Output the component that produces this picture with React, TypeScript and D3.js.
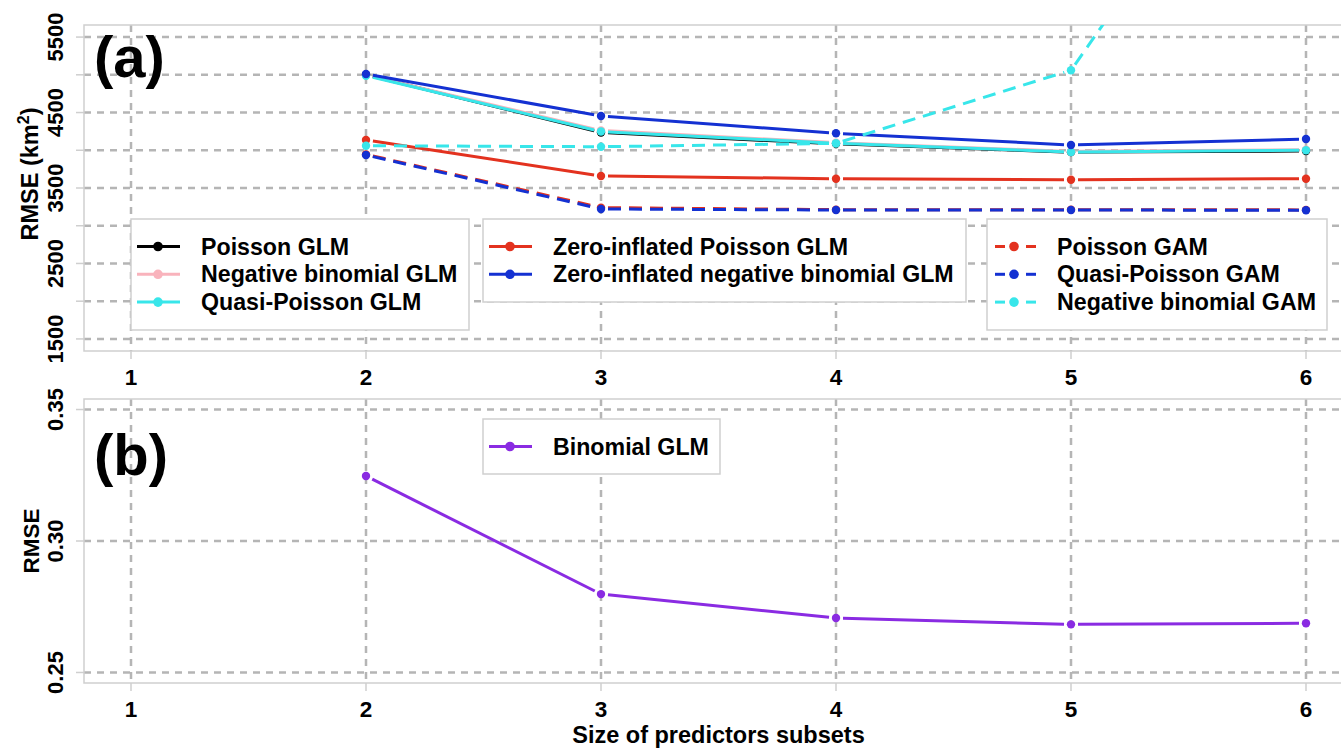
import { useEffect, useRef } from 'react'
import * as d3 from 'd3'

const subsetSizes = [2, 3, 4, 5, 6]
const xTicks = [1, 2, 3, 4, 5, 6]
const topGrid = [1500, 2000, 2500, 3000, 3500, 4000, 4500, 5000, 5500]
const topLabels = [1500, 2500, 3500, 4500, 5500]
const bottomGrid = [0.25, 0.3, 0.35]

const poissonGlm = [5000, 4235, 4085, 3975, 3990]
const negBinGlm = [4995, 4262, 4100, 3985, 4008]
const quasiPoissonGlm = [4988, 4248, 4092, 3978, 4000]
const zipGlm = [4136, 3659, 3623, 3610, 3623]
const zinbGlm = [5011, 4454, 4225, 4070, 4149]
const poissonGam = [3945, 3240, 3213, 3212, 3210]
const quasiPoissonGam = [3937, 3222, 3208, 3208, 3205]
const negBinGam = [4060, 4047, 4092, 5060, 9510]
const binomialGlm = [0.3247, 0.2798, 0.2707, 0.2683, 0.2687]

const topSeries = [
  { name: 'Poisson GLM', values: poissonGlm, color: '#000000', dashed: false },
  { name: 'Negative binomial GLM', values: negBinGlm, color: '#f9b3bc', dashed: false },
  { name: 'Quasi-Poisson GLM', values: quasiPoissonGlm, color: '#38e6ea', dashed: false },
  { name: 'Zero-inflated Poisson GLM', values: zipGlm, color: '#e3321f', dashed: false },
  { name: 'Zero-inflated negative binomial GLM', values: zinbGlm, color: '#1431d2', dashed: false },
  { name: 'Poisson GAM', values: poissonGam, color: '#e3321f', dashed: true },
  { name: 'Quasi-Poisson GAM', values: quasiPoissonGam, color: '#1431d2', dashed: true },
  { name: 'Negative binomial GAM', values: negBinGam, color: '#38e6ea', dashed: true },
]

const legendGroups = [
  { x0: 131, x1: 469, y0: 219, y1: 330, items: [0, 1, 2] },
  { x0: 483, x1: 966, y0: 219, y1: 302, items: [3, 4] },
  { x0: 987, x1: 1327, y0: 219, y1: 330, items: [5, 6, 7] },
]

const FONT = '"Liberation Sans", Arial, Helvetica, sans-serif'
const GRID = '#b5b5b5'
const FRAME = '#cfcfcf'

function App() {
  const ref = useRef(null)

  useEffect(() => {
    const svg = d3.select(ref.current)
    svg.selectAll('*').remove()

    const left = 84
    const right = 1353
    const x = d3.scaleLinear().domain([0.8, 6.2]).range([left, right])
    const panels = [
      { y: d3.scaleLinear().domain([1340, 5660]).range([351, 25]), top: 25, bottom: 351, id: 'clipA' },
      { y: d3.scaleLinear().domain([0.246, 0.354]).range([683, 399]), top: 399, bottom: 683, id: 'clipB' },
    ]

    const defs = svg.append('defs')
    panels.forEach((p) => {
      defs
        .append('clipPath')
        .attr('id', p.id)
        .append('rect')
        .attr('x', left)
        .attr('y', p.top)
        .attr('width', right - left)
        .attr('height', p.bottom - p.top)
    })

    // grid + frame + ticks
    const drawFrame = (p, gridVals, labelVals, fmt) => {
      const g = svg.append('g')
      g.selectAll('line.hgrid')
        .data(gridVals)
        .enter()
        .append('line')
        .attr('x1', left)
        .attr('x2', right)
        .attr('y1', (d) => p.y(d))
        .attr('y2', (d) => p.y(d))
        .attr('stroke', GRID)
        .attr('stroke-width', 2.5)
        .attr('stroke-dasharray', '7,6')
      g.selectAll('line.vgrid')
        .data(xTicks)
        .enter()
        .append('line')
        .attr('x1', (d) => x(d))
        .attr('x2', (d) => x(d))
        .attr('y1', p.top)
        .attr('y2', p.bottom)
        .attr('stroke', GRID)
        .attr('stroke-width', 2.5)
        .attr('stroke-dasharray', '7,6')
      g.append('rect')
        .attr('x', left)
        .attr('y', p.top)
        .attr('width', right - left)
        .attr('height', p.bottom - p.top)
        .attr('fill', 'none')
        .attr('stroke', FRAME)
        .attr('stroke-width', 1.5)
      g.selectAll('line.ytick')
        .data(gridVals)
        .enter()
        .append('line')
        .attr('x1', left - 8)
        .attr('x2', left)
        .attr('y1', (d) => p.y(d))
        .attr('y2', (d) => p.y(d))
        .attr('stroke', FRAME)
        .attr('stroke-width', 1.5)
      g.selectAll('line.xtick')
        .data(xTicks)
        .enter()
        .append('line')
        .attr('x1', (d) => x(d))
        .attr('x2', (d) => x(d))
        .attr('y1', p.bottom)
        .attr('y2', p.bottom + 8)
        .attr('stroke', FRAME)
        .attr('stroke-width', 1.5)
      g.selectAll('text.xlab')
        .data(xTicks)
        .enter()
        .append('text')
        .attr('x', (d) => x(d))
        .attr('y', p.bottom + 34)
        .attr('text-anchor', 'middle')
        .attr('font-family', FONT)
        .attr('font-weight', 'bold')
        .attr('font-size', 22.5)
        .text((d) => d)
      g.selectAll('text.ylab')
        .data(labelVals)
        .enter()
        .append('text')
        .attr('transform', (d) => `translate(63,${p.y(d)}) rotate(-90)`)
        .attr('text-anchor', 'middle')
        .attr('font-family', FONT)
        .attr('font-weight', 'bold')
        .attr('font-size', 22)
        .text(fmt)
    }

    drawFrame(panels[0], topGrid, topLabels, (d) => d)
    drawFrame(panels[1], bottomGrid, bottomGrid, (d) => d3.format('.2f')(d))

    // type "b" series: segments with gaps around points
    const gap = 7
    const drawSeries = (p, values, color, dashed) => {
      const g = svg.append('g').attr('clip-path', `url(#${p.id})`)
      const pts = values.map((v, i) => [x(subsetSizes[i]), p.y(v)])
      d3.pairs(pts).forEach(([a, b]) => {
        const dx = b[0] - a[0]
        const dy = b[1] - a[1]
        const len = Math.hypot(dx, dy)
        if (len <= 2 * gap) return
        const ux = dx / len
        const uy = dy / len
        g.append('line')
          .attr('x1', a[0] + ux * gap)
          .attr('y1', a[1] + uy * gap)
          .attr('x2', b[0] - ux * gap)
          .attr('y2', b[1] - uy * gap)
          .attr('stroke', color)
          .attr('stroke-width', 3)
          .attr('stroke-dasharray', dashed ? '13,8' : null)
      })
      g.selectAll('circle')
        .data(pts)
        .enter()
        .append('circle')
        .attr('cx', (d) => d[0])
        .attr('cy', (d) => d[1])
        .attr('r', 4.2)
        .attr('fill', color)
    }

    topSeries.forEach((s) => drawSeries(panels[0], s.values, s.color, s.dashed))
    drawSeries(panels[1], binomialGlm, '#8a2be2', false)

    // legends
    const drawLegendBox = (box, items) => {
      const g = svg.append('g')
      g.append('rect')
        .attr('x', box.x0)
        .attr('y', box.y0)
        .attr('width', box.x1 - box.x0)
        .attr('height', box.y1 - box.y0)
        .attr('fill', '#ffffff')
        .attr('stroke', FRAME)
        .attr('stroke-width', 1.5)
      items.forEach((s, i) => {
        const cy = box.y0 + 27.5 + i * 27.8
        const lx = box.x0 + 6
        const px = box.x0 + 27
        if (s.dashed) {
          ;[
            [lx + 2, lx + 12],
            [px + 12, px + 22],
          ].forEach(([a, b]) => {
            g.append('line')
              .attr('x1', a)
              .attr('x2', b)
              .attr('y1', cy)
              .attr('y2', cy)
              .attr('stroke', s.color)
              .attr('stroke-width', 3)
          })
        } else {
          g.append('line')
            .attr('x1', lx)
            .attr('x2', lx + 43)
            .attr('y1', cy)
            .attr('y2', cy)
            .attr('stroke', s.color)
            .attr('stroke-width', 3)
        }
        g.append('circle').attr('cx', px).attr('cy', cy).attr('r', 4.8).attr('fill', s.color)
        g.append('text')
          .attr('x', box.x0 + 70)
          .attr('y', cy + 8)
          .attr('font-family', FONT)
          .attr('font-weight', 'bold')
          .attr('font-size', 23.2)
          .text(s.name)
      })
    }

    legendGroups.forEach((box) => drawLegendBox(box, box.items.map((i) => topSeries[i])))
    drawLegendBox({ x0: 483, x1: 720, y0: 419, y1: 474 }, [
      { name: 'Binomial GLM', color: '#8a2be2', dashed: false },
    ])

    // panel tags
    svg.append('text')
      .attr('x', 94)
      .attr('y', 77)
      .attr('font-family', FONT)
      .attr('font-weight', 'bold')
      .attr('font-size', 58)
      .text('(a)')
    svg.append('text')
      .attr('x', 94)
      .attr('y', 475)
      .attr('font-family', FONT)
      .attr('font-weight', 'bold')
      .attr('font-size', 58)
      .text('(b)')

    // axis titles
    const yt = svg.append('text')
      .attr('transform', 'translate(38,174) rotate(-90)')
      .attr('text-anchor', 'middle')
      .attr('font-family', FONT)
      .attr('font-weight', 'bold')
      .attr('font-size', 23.5)
    yt.append('tspan').text('RMSE (km')
    yt.append('tspan').attr('dy', -9).attr('font-size', 16).text('2')
    yt.append('tspan').attr('dy', 9).text(')')

    svg.append('text')
      .attr('transform', 'translate(39,541) rotate(-90)')
      .attr('text-anchor', 'middle')
      .attr('font-family', FONT)
      .attr('font-weight', 'bold')
      .attr('font-size', 22.5)
      .text('RMSE')

    svg.append('text')
      .attr('x', (left + right) / 2)
      .attr('y', 743)
      .attr('text-anchor', 'middle')
      .attr('font-family', FONT)
      .attr('font-weight', 'bold')
      .attr('font-size', 23.5)
      .text('Size of predictors subsets')
  }, [])

  return (
    <svg
      ref={ref}
      width={1341}
      height={749}
      style={{ position: 'absolute', left: 0, top: 0, background: '#ffffff' }}
    />
  )
}

export default App
